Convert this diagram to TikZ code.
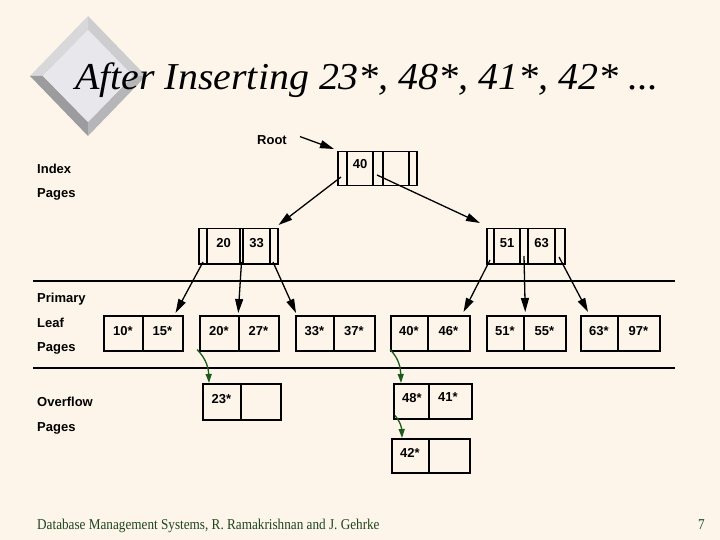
\documentclass[tikz,border=0pt]{standalone}
\usepackage{fontspec}
\setmainfont{Liberation Serif}
\newfontfamily\arial{Liberation Sans}
\usetikzlibrary{arrows.meta,calc}
\definecolor{bg}{HTML}{FDF5E9}
\definecolor{dgreen}{HTML}{1E5A1E}
\definecolor{foot}{HTML}{1E461E}
\definecolor{face}{HTML}{E8E8EC}
\definecolor{bevA}{HTML}{D8D8DA}
\definecolor{bevB}{HTML}{9C9C9E}
\definecolor{bevC}{HTML}{B6B6B8}
\definecolor{bevD}{HTML}{CDCDCF}
\tikzset{
  box/.style={draw, line width=1.5pt, inner sep=0pt, anchor=north west},
  key/.style={font=\arial\bfseries\fontsize{13}{15}\selectfont, inner sep=0pt},
  lbl/.style={font=\arial\bfseries\fontsize{13}{15}\selectfont, anchor=base west, inner sep=0pt},
  ptr/.style={line width=1.3pt, -{Triangle[length=14pt,width=8pt]}},
  ovf/.style={line width=1.3pt, dgreen, -{Triangle[length=9pt,width=6pt]}},
  sep/.style={line width=1.5pt}
}
\begin{document}
\begin{tikzpicture}[x=1pt,y=-1pt]
\useasboundingbox[fill=bg] (0,0) rectangle (720,540);
% diamond logo
\coordinate (T) at (88,16); \coordinate (L) at (30,76);
\coordinate (B) at (88,136); \coordinate (R) at (146,76);
\coordinate (Ti) at (88,30); \coordinate (Li) at (43,76);
\coordinate (Bi) at (88,122); \coordinate (Ri) at (133,76);
\fill[bevA] (T) -- (L) -- (Li) -- (Ti) -- cycle;
\fill[bevB] (L) -- (B) -- (Bi) -- (Li) -- cycle;
\fill[bevC] (B) -- (R) -- (Ri) -- (Bi) -- cycle;
\fill[bevD] (R) -- (T) -- (Ti) -- (Ri) -- cycle;
\fill[face] (Ti) -- (Li) -- (Bi) -- (Ri) -- cycle;
% title
\node[anchor=base west, inner sep=0pt, font=\fontsize{38}{40}\selectfont\itshape] (title) at (75,90) {\scalebox{1.05}[1]{After Inserting 23*, 48*, 41*, 42* ...}};
% side labels
\node[lbl] (t1) at (37,174) {Index};
\node[lbl] (t2) at (37,198) {Pages};
\node[lbl] (t3) at (37,302) {Primary};
\node[lbl] (t4) at (37,327) {Leaf};
\node[lbl] (t5) at (37,351) {Pages};
\node[lbl] (t6) at (37,406) {Overflow};
\node[lbl] (t7) at (37,431) {Pages};
% separators
\draw[sep] (33,281) coordinate (s1a) -- (675,281) coordinate (s1b);
\draw[sep] (33,368) coordinate (s2a) -- (675,368) coordinate (s2b);
% root
\node[lbl] (rootlbl) at (257,145) {Root};
\node[box, minimum width=79pt, minimum height=34pt] (root) at (337,151) {};
\foreach \x in {347,373,383,409} \draw[line width=1.5pt] (\x,151) -- (\x,185);
\node[key] (k40) at (360,164) {40};
\coordinate (rp0) at (341,177);
\coordinate (rp1) at (377,175);
\draw[ptr] ($(rootlbl.east)+(13,-4)$) -- ($(root.north west)+(-3,-2)$);
% left index node
\node[box, minimum width=79pt, minimum height=35pt] (iL) at (198,228) {};
\foreach \x in {207,240,243,270} \draw[line width=1.5pt] (\x,228) -- (\x,263);
\node[key] (k20) at (223.5,243) {20};
\node[key] (k33) at (256.5,243) {33};
\coordinate (lp0) at (203,262);
\coordinate (lp1) at (241.5,262);
\coordinate (lp2) at (273,262);
% right index node
\node[box, minimum width=78pt, minimum height=35pt] (iR) at (486,228) {};
\foreach \x in {494,520,528,555} \draw[line width=1.5pt] (\x,228) -- (\x,263);
\node[key] (k51) at (507,243) {51};
\node[key] (k63) at (541.5,243) {63};
\coordinate (rp2) at (490,260);
\coordinate (rp3) at (524,256);
\coordinate (rp4) at (559,257);
% root pointers
\draw[ptr] (rp0) -- ($(iL.north east)+(0,-3)$);
\draw[ptr] (rp1) -- ($(iR.north west)+(-6,-5)$);
% leaves
\foreach \n/\x/\d/\a/\b in {l1/103/143/10*/15*, l2/199/239/20*/27*, l3/295/334/33*/37*, l4/390/428/40*/46*, l5/486/524/51*/55*, l6/580/618/63*/97*}{
  \node[box, minimum width=79pt, minimum height=35pt] (\n) at (\x,315) {};
  \draw[line width=1.5pt] (\d,315) -- (\d,350);
  \node[key] (\n a) at ({(\x+\d)/2},331) {\a};
  \node[key] (\n b) at ({(\d+\x+79)/2},331) {\b};
}
% index to leaf pointers
\draw[ptr] (lp0) -- ($(l1.north east)+(-8,-2)$);
\draw[ptr] (lp1) -- ($(l2.north)+(-1,-2)$);
\draw[ptr] (lp2) -- ($(l3.north west)+(1,-2)$);
\draw[ptr] (rp2) -- ($(l4.north east)+(-7,-3)$);
\draw[ptr] (rp3) -- ($(l5.north)+(-1,-3)$);
\draw[ptr] (rp4) -- ($(l6.north west)+(8,-3)$);
% overflow pages
\node[box, minimum width=78pt, minimum height=36pt] (o1) at (202,383) {};
\draw[line width=1.5pt] (241,383) -- (241,419);
\node[key] (o1a) at (221.5,399) {23*};
\node[box, minimum width=78pt, minimum height=35pt] (o2) at (393,383) {};
\draw[line width=1.5pt] (429,383) -- (429,418);
\node[key] (o2a) at (412,398) {48*};
\node[key] (o2b) at (448,397) {41*};
\node[box, minimum width=78pt, minimum height=34pt] (o3) at (391,438) {};
\draw[line width=1.5pt] (429,438) -- (429,472);
\node[key] (o3a) at (410,453) {42*};
% overflow links
\draw[ovf] ($(l2.south west)+(-2,-2)$) to[out=-45,in=92] ($(o1.north west)+(7,0)$);
\draw[ovf] ($(l4.south west)+(0,-2)$) to[out=-45,in=92] ($(o2.north west)+(8,0)$);
\draw[ovf] ($(o2.south west)+(2,-4)$) to[out=-50,in=92] ($(o3.north west)+(11,0)$);
% footer
\node[anchor=base west, inner sep=0pt, text=foot, font=\fontsize{15}{17}\selectfont] (foot) at (37,529) {\scalebox{0.88}[1]{Database Management Systems, R. Ramakrishnan and J. Gehrke}};
\node[anchor=base west, inner sep=0pt, text=foot, font=\fontsize{15}{17}\selectfont] (pg) at (698,529) {\scalebox{0.88}[1]{7}};
\end{tikzpicture}
\end{document}
